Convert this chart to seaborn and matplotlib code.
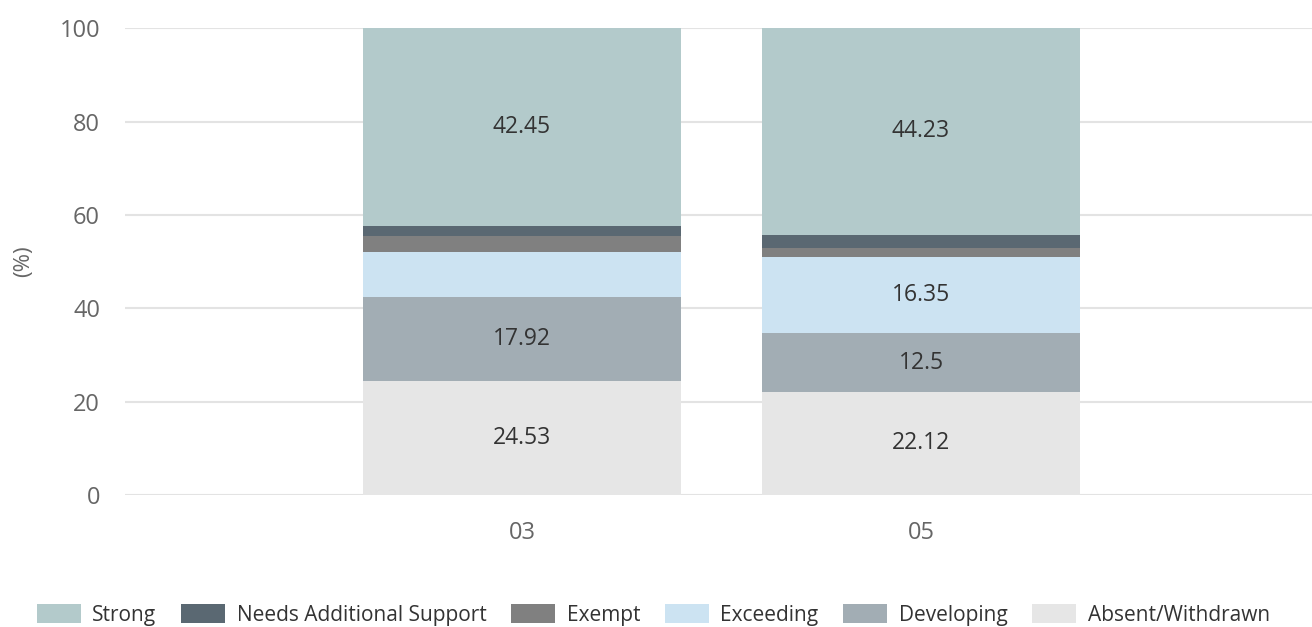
import numpy as np
import pandas as pd
import matplotlib
matplotlib.use('Agg')
import matplotlib.pyplot as plt
import seaborn as sns
from matplotlib.patches import Patch

# data, bottom to top
groups = ['03', '05']
levels = ['Absent/Withdrawn', 'Developing', 'Exceeding', 'Exempt',
          'Needs Additional Support', 'Strong']
absent = [24.53, 22.12]
developing = [17.92, 12.5]
exceeding = [9.62, 16.35]
exempt = [3.39, 1.92]
needs_support = [2.09, 2.88]
strong = [42.45, 44.23]

colors = {'Strong': '#b3cacb', 'Needs Additional Support': '#5a6872',
          'Exempt': '#808080', 'Exceeding': '#cce3f2',
          'Developing': '#a2adb4', 'Absent/Withdrawn': '#e6e6e6'}

vals = pd.DataFrame({'group': groups, 'Absent/Withdrawn': absent,
                     'Developing': developing, 'Exceeding': exceeding,
                     'Exempt': exempt, 'Needs Additional Support': needs_support,
                     'Strong': strong})
cum = vals[levels].cumsum(axis=1)
cum['group'] = groups

sns.set_style('white')
plt.rcParams['font.family'] = ['Open Sans', 'DejaVu Sans']

fig = plt.figure(figsize=(13.12, 6.27), dpi=100)
ax = fig.add_axes([0.0953, 0.2105, 0.9047, 0.7445])

# draw cumulative heights from the top down so each layer shows its own slice
for lvl in levels[::-1]:
    sns.barplot(data=cum, x='group', y=lvl, color=colors[lvl], width=0.797,
                saturation=1, linewidth=0, ax=ax, zorder=3)

# segment labels (only the bigger slices carry a number)
for i in range(len(groups)):
    base = 0
    for lvl in levels:
        v = vals[lvl][i]
        if v >= 10:
            ax.text(i, base + v / 2, f'{v:g}', ha='center', va='center',
                    fontsize=16.5, color='#333333', zorder=4)
        base += v

ax.set_xlim(-0.995, 1.98)
ax.set_ylim(0, 100)
ax.set_yticks([0, 20, 40, 60, 80, 100])
ax.grid(axis='y', color='#e3e3e3', linewidth=1.5, zorder=0)
ax.set_axisbelow(True)
sns.despine(ax=ax, left=True, bottom=True)
ax.tick_params(axis='both', length=0, labelsize=17, labelcolor='#666666')
ax.tick_params(axis='y', pad=18)
ax.tick_params(axis='x', pad=19)
ax.set_xlabel('')
ax.set_ylabel('(%)', fontsize=16, color='#666666')
ax.yaxis.set_label_coords(-0.077, 0.5)

handles = [Patch(facecolor=colors[l], edgecolor='none') for l in levels[::-1]]
fig.legend(handles, levels[::-1], loc='lower center', ncol=6,
           bbox_to_anchor=(0.498, -0.028), frameon=False, fontsize=15,
           handlelength=2.1, handleheight=1.0, handletextpad=0.55,
           columnspacing=1.2, labelcolor='#333333')

plt.savefig('out.png', dpi=100)
